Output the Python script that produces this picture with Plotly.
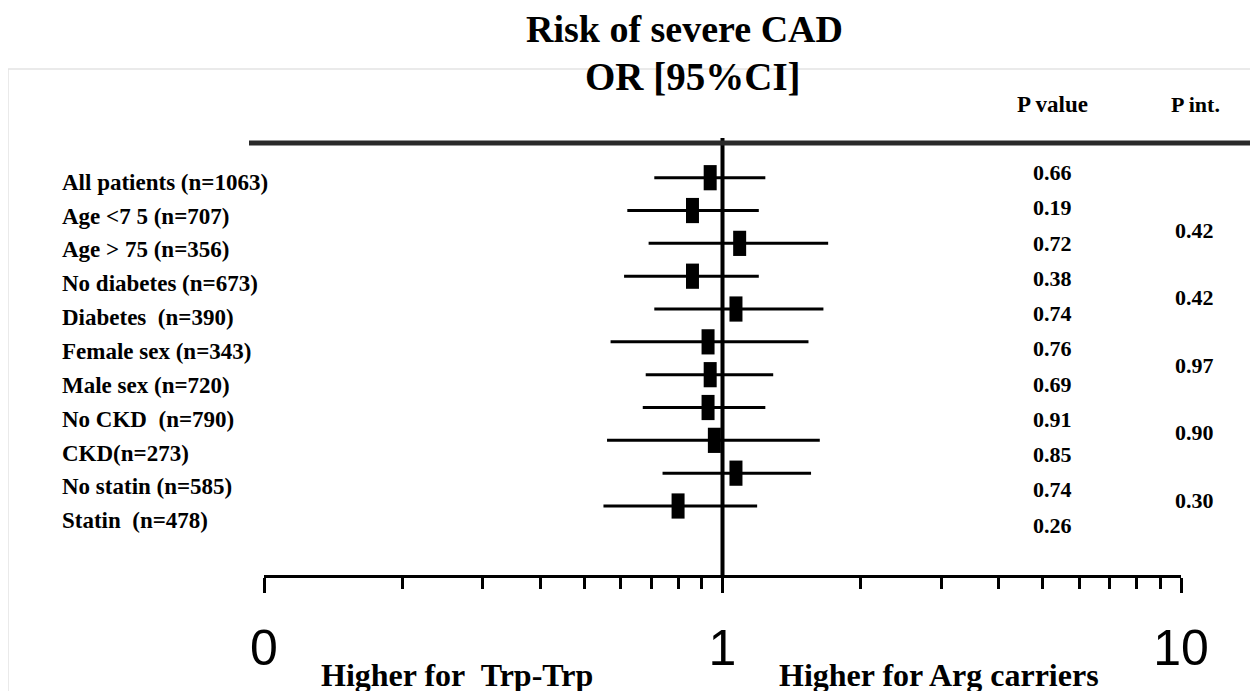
import math
import plotly.graph_objects as go

# ---------------- data ----------------
subgroups = [
    "All patients (n=1063)",
    "Age <7 5 (n=707)",
    "Age > 75 (n=356)",
    "No diabetes (n=673)",
    "Diabetes\u00a0 (n=390)",
    "Female sex (n=343)",
    "Male sex (n=720)",
    "No CKD\u00a0 (n=790)",
    "CKD(n=273)",
    "No statin (n=585)",
    "Statin\u00a0 (n=478)",
]
odds_ratio = [0.94, 0.86, 1.09, 0.86, 1.07, 0.93, 0.94, 0.93, 0.96, 1.07, 0.80]
ci_low     = [0.71, 0.62, 0.69, 0.61, 0.71, 0.57, 0.68, 0.67, 0.56, 0.74, 0.55]
ci_high    = [1.24, 1.20, 1.70, 1.20, 1.66, 1.54, 1.29, 1.24, 1.63, 1.56, 1.19]
p_values   = ["0.66", "0.19", "0.72", "0.38", "0.74", "0.76", "0.69", "0.91", "0.85", "0.74", "0.26"]
p_interaction = ["0.42", "0.42", "0.97", "0.90", "0.30"]
tick_vals = [0.1, 1, 10]
tick_text = ["0", "1", "10"]
minor_tick_vals = [0.2, 0.3, 0.4, 0.5, 0.6, 0.7, 0.8, 0.9, 2, 3, 4, 5, 6, 7, 8, 9]
null_value = 1.0

# ---------------- layout helpers ----------------
W, H = 1258, 691
OFF = 8  # page body margin: the figure is drawn 8px in from the window corner
def px(x):
    return (x - OFF) / W
def py(y):
    return 1 - (y - OFF) / H

TOP, BOTTOM = 138, 575          # window-pixel extent of plotting area
X0PIX, X1PIX = 264, 1181        # window pixel of 0.1 and 10

def idx_range(p0, step):
    """range of an index axis so that index 0 sits at pixel p0, spacing step."""
    return [(BOTTOM - p0) / step, (TOP - p0) / step]

rows_range = idx_range(177.7, 32.83)
labels_range = idx_range(182.3, 33.84)
pval_range = idx_range(172.7, 35.23)
pint_range = idx_range(230.0, 67.5)

serif = "Liberation Serif, Times New Roman, serif"
black = "#000000"

idx = list(range(len(subgroups)))

fig = go.Figure()

# reference line at OR = 1
fig.add_trace(go.Scatter(
    x=[null_value, null_value], y=rows_range, mode="lines",
    line=dict(color=black, width=4), hoverinfo="skip", showlegend=False,
    cliponaxis=False,
))

# confidence intervals + point estimates
fig.add_trace(go.Scatter(
    x=odds_ratio, y=idx, mode="markers",
    marker=dict(symbol="line-ns", size=18, color=black,
                line=dict(color=black, width=13)),
    error_x=dict(type="data", symmetric=False,
                 array=[h - o for h, o in zip(ci_high, odds_ratio)],
                 arrayminus=[o - l for o, l in zip(odds_ratio, ci_low)],
                 color=black, thickness=3, width=0),
    showlegend=False, cliponaxis=False,
))

annotations = []
# subgroup labels
for i, lab in enumerate(subgroups):
    annotations.append(dict(
        text=lab, xref="paper", yref="y2", x=px(60), y=i,
        xanchor="left", yanchor="middle", showarrow=False,
        font=dict(family=serif, size=23, color=black, weight="bold")))
# p values
for i, p in enumerate(p_values):
    annotations.append(dict(
        text=p, xref="paper", yref="y3", x=px(1031), y=i,
        xanchor="left", yanchor="middle", showarrow=False,
        font=dict(family=serif, size=22, color=black, weight="bold")))
# p interaction
for i, p in enumerate(p_interaction):
    annotations.append(dict(
        text=p, xref="paper", yref="y4", x=px(1173), y=i,
        xanchor="left", yanchor="middle", showarrow=False,
        font=dict(family=serif, size=22, color=black, weight="bold")))

# titles / headers
def txt(text, x, y, size, xanchor="center"):
    annotations.append(dict(
        text=text, xref="paper", yref="paper", x=px(x), y=py(y),
        xanchor=xanchor, yanchor="middle", showarrow=False,
        font=dict(family=serif, size=size, color=black, weight="bold")))

txt("Risk of severe CAD", 684.5, 28.5, 38)
txt("OR [95%CI]", 693, 77, 39)
txt("P value", 1052.5, 104, 23)
txt("P int.", 1195, 104, 22)
txt("Higher for\u00a0 Trp-Trp", 456.7, 674.5, 32)
txt("Higher for Arg carriers", 939, 674.5, 32)

shapes = [
    # faint frame
    dict(type="rect", xref="paper", yref="paper", x0=px(8), x1=px(1300),
         y0=py(720), y1=py(69), line=dict(color="#e3e3e3", width=1.5),
         layer="below"),
    # heavy header rule
    dict(type="line", xref="paper", yref="paper", x0=px(249), x1=px(1270),
         y0=py(143), y1=py(143), line=dict(color="#2a2a2a", width=5)),
]

ydom = [py(BOTTOM), py(TOP)]
fig.update_layout(
    width=W, height=H,
    margin=dict(l=0, r=0, t=0, b=0, autoexpand=False),
    paper_bgcolor="white", plot_bgcolor="white",
    showlegend=False,
    annotations=annotations, shapes=shapes,
    xaxis=dict(
        type="log", range=[math.log10(tick_vals[0]), math.log10(tick_vals[-1])],
        domain=[px(X0PIX), px(X1PIX)],
        automargin=False,
        showgrid=False, zeroline=False,
        showline=True, linecolor=black, linewidth=3.3,
        ticks="outside", ticklen=15, tickwidth=3, tickcolor=black,
        tickvals=tick_vals, ticktext=tick_text,
        tickfont=dict(family="Liberation Sans, Arial, sans-serif",
                      size=50, color=black),
        ticklabelstandoff=12,
        minor=dict(tickvals=minor_tick_vals, ticks="outside", ticklen=11,
                   tickwidth=2.5, tickcolor=black, showgrid=False),
        fixedrange=True,
    ),
    yaxis=dict(domain=ydom, range=rows_range, visible=False, fixedrange=True),
    yaxis2=dict(domain=ydom, range=labels_range, visible=False, overlaying="y"),
    yaxis3=dict(domain=ydom, range=pval_range, visible=False, overlaying="y"),
    yaxis4=dict(domain=ydom, range=pint_range, visible=False, overlaying="y"),
)

fig.write_html("out.html")
